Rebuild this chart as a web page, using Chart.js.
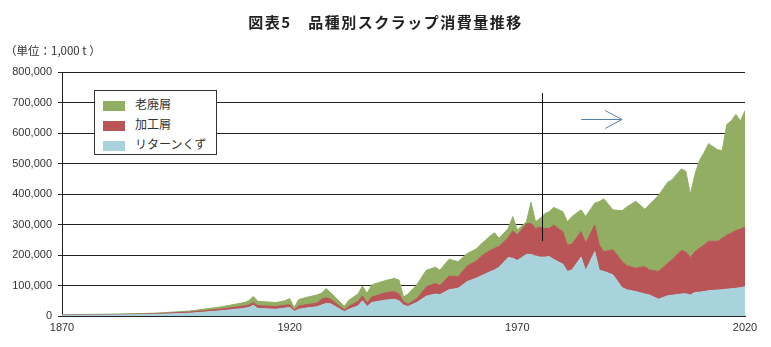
<!DOCTYPE html>
<html>
<head>
<meta charset="utf-8">
<script src="https://cdn.jsdelivr.net/npm/chart.js@4.4.1/dist/chart.umd.min.js"></script>
<style>
body{margin:0;background:#fff;font-family:"Noto Sans CJK JP",sans-serif;}
#wrap{position:relative;width:771px;height:347px;}
#titulo{position:absolute;left:0;top:11px;width:771px;text-align:center;font-size:15px;font-weight:bold;letter-spacing:1.5px;color:#222;}
#unidade{position:absolute;left:5px;top:42px;font-size:11.5px;color:#333;}
#legenda{position:absolute;left:94px;top:90px;width:121px;height:63px;border:1px solid #333;background:#fff;z-index:2;}
.item{position:absolute;left:8px;height:20px;line-height:20px;font-size:12px;color:#333;white-space:nowrap;}
.item span{display:inline-block;width:22px;height:10px;margin-right:10px;vertical-align:middle;}
canvas{position:absolute;left:0;top:0;}
</style>
</head>
<body>
<div id="wrap">
  <canvas id="relSucata" width="771" height="347"></canvas>
  <div id="titulo">図表5　品種別スクラップ消費量推移</div>
  <div id="unidade">（単位：1,000 t ）</div>
  <div id="legenda">
    <div class="item" style="top:3px"><span style="background:#91ae63"></span>老廃屑</div>
    <div class="item" style="top:23px"><span style="background:#b95457"></span>加工屑</div>
    <div class="item" style="top:43px"><span style="background:#a8d3dd"></span>リターンくず</div>
  </div>
</div>
<script>
var anos = [1870,1880,1890,1898,1905,1910,1911,1912,1913,1917,1919,1920,1921,1922,1924,1926,1927,1928,1929,
  1932,1933,1935,1936,1937,1938,1941,1943,1944,1945,1946,1948,1950,1952,1953,1955,1957,1959,1961,1962,
  1964,1965,1966,1968,1969,1970,1972,1973,1974,1975,1976,1977,1978,1980,1981,1982,1984,1985,1987,1988,
  1989,1991,1993,1994,1996,1998,1999,2001,2003,2004,2006,2007,2008,2009,2010,2011,2012,2014,2015,2016,
  2017,2018,2019,2020]

// リターンくず
var retorno = [2000,3000,5000,9000,17000,25000,28000,35000,25000,22000,26000,28000,15000,22000,27000,30000,36000,41000,40000,
  14000,22000,33000,50000,31000,44000,52000,55000,50000,36000,31000,45000,65000,72000,70000,86000,91000,113000,124000,131000,
  145000,151000,160000,192000,189000,182000,202000,202000,197000,193000,193000,195000,185000,170000,146000,151000,193000,148000,211000,150000,
  146000,135000,93000,86000,80000,72000,69000,55000,66000,68000,72000,73000,69000,77000,78000,80000,83000,85000,86000,88000,
  89000,91000,93000,96000]

// 加工屑
var processo = [1000,1000,2000,4000,6000,8000,8000,9000,9000,9000,9000,9000,5000,11000,11000,12000,19000,19000,15000,
  6000,10000,15000,16000,11000,18000,24000,25000,22000,11000,7000,13000,30000,35000,30000,45000,38000,51000,56000,64000,
  70000,71000,68000,66000,90000,84000,100000,102000,90000,98000,94000,92000,113000,106000,86000,85000,84000,91000,87000,83000,
  65000,82000,86000,79000,77000,90000,82000,91000,107000,117000,143000,137000,123000,133000,145000,152000,162000,160000,169000,177000,
  183000,189000,192000,196000]

// 老廃屑
var obsoleto = [1000,2000,2000,3000,7000,11000,14000,20000,14000,13000,15000,20000,8000,21000,24000,27000,20000,30000,21000,
  12000,20000,24000,32000,32000,40000,40000,43000,46000,15000,34000,46000,55000,53000,50000,55000,49000,41000,40000,40000,
  47000,51000,27000,29000,47000,16000,7000,69000,22000,29000,48000,55000,58000,66000,77000,90000,71000,87000,72000,142000,
  173000,131000,166000,192000,219000,188000,214000,249000,265000,262000,267000,265000,206000,254000,287000,303000,320000,300000,287000,363000,
  368000,381000,354000,381000]

var rotulosX = [1870,1920,1970,2020]

var linhaAno = 1975.5, linhaDe = 246000, linhaAte = 731000
var setaDe = 1984, setaAte = 1993, setaNivel = 646000

function pts(vals){
  return anos.map((a,i)=>({x:a, y:vals[i]}))
}

var marcas = {
  id: 'marcas',
  afterDatasetsDraw(chart){
    var ctx = chart.ctx, sx = chart.scales.x, sy = chart.scales.y
    ctx.save()
    // linha vertical
    var lx = Math.round(sx.getPixelForValue(linhaAno)) + 0.5
    ctx.strokeStyle = '#111'
    ctx.lineWidth = 1
    ctx.beginPath()
    ctx.moveTo(lx, sy.getPixelForValue(linhaAte))
    ctx.lineTo(lx, sy.getPixelForValue(linhaDe))
    ctx.stroke()
    // seta
    var x1 = sx.getPixelForValue(setaDe), x2 = sx.getPixelForValue(setaAte)
    var ay = Math.round(sy.getPixelForValue(setaNivel)) + 0.5
    ctx.strokeStyle = '#5580b5'
    ctx.beginPath()
    ctx.moveTo(x1, ay)
    ctx.lineTo(x2, ay)
    ctx.moveTo(x2 - 17, ay - 9)
    ctx.lineTo(x2, ay)
    ctx.lineTo(x2 - 17, ay + 9)
    ctx.stroke()
    ctx.restore()
  }
}

var fonteNum = {family: '"Liberation Sans", Arial, sans-serif', size: 11}

new Chart(document.getElementById('relSucata'), {
  type: 'line',
  data: {
    datasets: [
      {label: 'リターンくず', data: pts(retorno), backgroundColor: '#a8d3dd', borderColor: '#a8d3dd', fill: 'origin'},
      {label: '加工屑', data: pts(processo), backgroundColor: '#b95457', borderColor: '#b95457', fill: '-1'},
      {label: '老廃屑', data: pts(obsoleto), backgroundColor: '#91ae63', borderColor: '#91ae63', fill: '-1'}
    ]
  },
  options: {
    responsive: false,
    animation: false,
    layout: {padding: {top: 72, right: 26, bottom: 0, left: 0}},
    elements: {
      point: {radius: 0},
      line: {borderWidth: 1, tension: 0}
    },
    scales: {
      x: {
        type: 'linear',
        min: 1870,
        max: 2020,
        afterBuildTicks: s => { s.ticks = rotulosX.map(v => ({value: v})) },
        afterFit: s => { s.height = 31 },
        ticks: {callback: v => String(v), font: fonteNum, color: '#333', padding: 5, maxRotation: 0, autoSkip: false},
        grid: {display: false, drawTicks: false},
        border: {display: true, color: '#222', width: 1}
      },
      y: {
        stacked: true,
        min: 0,
        max: 800000,
        afterFit: s => { s.width = 62 },
        ticks: {stepSize: 100000, callback: v => v.toLocaleString('en-US'), font: fonteNum, color: '#333', padding: 6},
        grid: {color: '#222', tickLength: 4, lineWidth: 1},
        border: {color: '#222', width: 1}
      }
    },
    plugins: {
      legend: {display: false},
      tooltip: {enabled: false}
    }
  },
  plugins: [marcas]
})
</script>
</body>
</html>
